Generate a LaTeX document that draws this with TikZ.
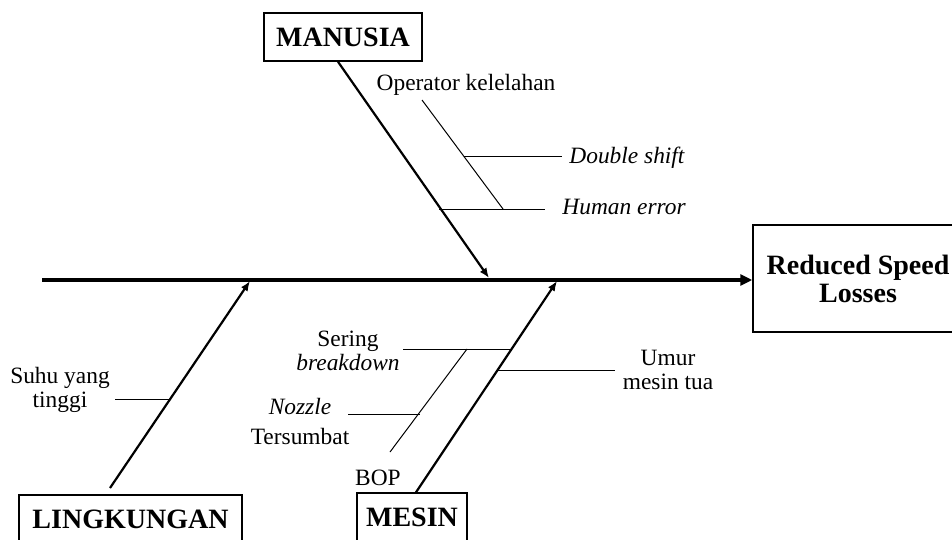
\documentclass[tikz,border=0pt]{standalone}
\usepackage{fontspec}
\setmainfont{Liberation Serif}
\usetikzlibrary{arrows.meta}
\begin{document}
\begin{tikzpicture}[x=0.5pt,y=-0.5pt,
  catbox/.style={draw,line width=0.75pt,inner sep=0pt,minimum height=24pt,
    font=\fontsize{14}{14}\selectfont\bfseries},
  lbl/.style={inner sep=0pt,font=\fontsize{11.7}{12}\selectfont,align=center},
  ilbl/.style={lbl,font=\fontsize{11.7}{12}\selectfont\itshape},
  spine/.style={line width=2.2pt,-{Triangle[length=6pt,width=5.5pt]}},
  bone/.style={line width=1.1pt,-{Latex[length=5pt,width=4pt]}},
  sub/.style={line width=0.5pt}]
\useasboundingbox (0,0) rectangle (952,540);
\clip (0,0) rectangle (952,540);

% category and effect boxes
\node[catbox,minimum width=79pt] (manusia) at (343,37) {MANUSIA};
\node[catbox,minimum width=111.5pt] (lingk) at (130.5,519) {LINGKUNGAN};
\node[catbox,minimum width=55pt] (mesin) at (412,517) {MESIN};
\node[draw,line width=0.75pt,inner sep=0pt,minimum width=105pt,minimum height=53.5pt,
  align=center,font=\fontsize{14}{14}\selectfont\bfseries] (effect) at (858,278.5)
  {Reduced Speed\\Losses};

% spine
\coordinate (tail) at (42,280);
\draw[spine] (tail) -- (tail -| effect.west);

% main bones
\coordinate (mEnd) at (489,278);
\coordinate (lStart) at (110,488);
\coordinate (lEnd) at (250,281);
\coordinate (sEnd) at (557,281);
\draw[bone] ([xshift=-2.5pt]manusia.south) -- (mEnd);
\draw[bone] (lStart) -- (lEnd);
\draw[bone] ([xshift=2pt]mesin.north) -- (sEnd);

% MANUSIA causes
\node[lbl] (op) at (466,85) {Operator kelelahan};
\node[ilbl,anchor=west] (ds) at (569,158) {Double shift};
\node[ilbl,anchor=west] (he) at (562,207) {Human error};
\coordinate (opA) at (422,100);
\coordinate (opB) at (503,209);
\coordinate (dsA) at (464,156);
\coordinate (dsB) at (562,156);
\coordinate (heA) at (439,209);
\coordinate (heB) at (545,209);
\draw[sub] (opA) -- (opB);
\draw[sub] (dsA) -- (dsB);
\draw[sub] (heA) -- (heB);

% LINGKUNGAN causes
\node[lbl] (suhu) at (60,390) {Suhu yang\\tinggi};
\coordinate (suA) at (115,399);
\coordinate (suB) at (170,399);
\draw[sub] (suA) -- (suB);

% MESIN causes
\node[lbl] (sering) at (348,350.5) {Sering\\\textit{breakdown}};
\coordinate (seA) at (403,349);
\coordinate (seB) at (512,349);
\draw[sub] (seA) -- (seB);
\node[ilbl] (nozzle) at (300,406) {Nozzle};
\node[lbl] (tersumbat) at (300,436) {Tersumbat};
\node[lbl] (bop) at (378,478) {BOP};
\coordinate (bopA) at (390,452);
\coordinate (bopB) at (467,349);
\draw[sub] (bopA) -- (bopB);
\coordinate (nzA) at (348,414);
\coordinate (nzB) at (420,414);
\draw[sub] (nzA) -- (nzB);
\node[lbl] (umur) at (668,370) {Umur\\mesin tua};
\coordinate (umA) at (498,370);
\coordinate (umB) at (615,370);
\draw[sub] (umA) -- (umB);
\end{tikzpicture}
\end{document}
